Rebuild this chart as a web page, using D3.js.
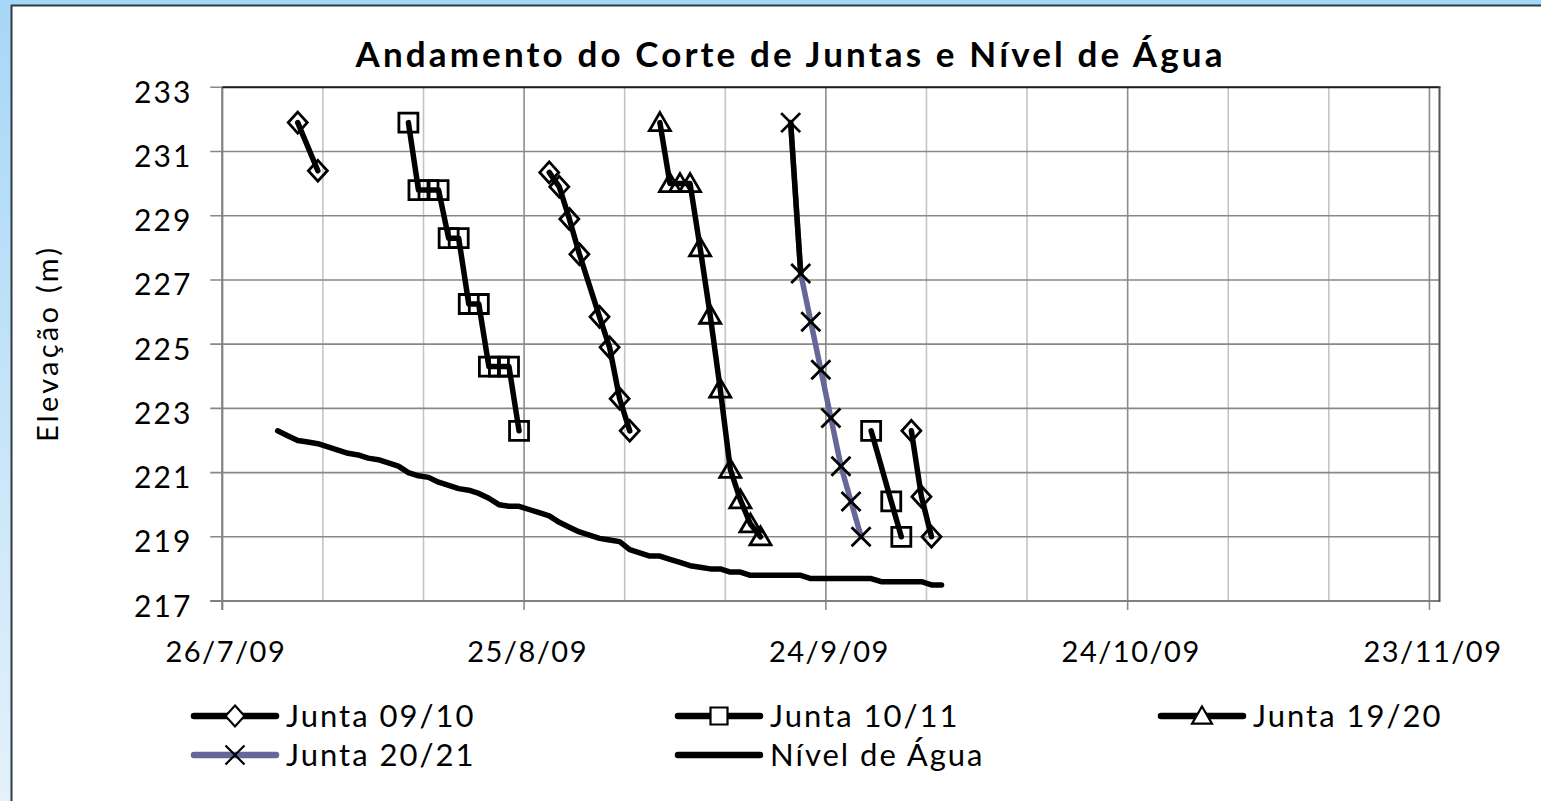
<!DOCTYPE html>
<html><head><meta charset="utf-8">
<script src="https://cdn.jsdelivr.net/npm/d3@7"></script>
<style>html,body{margin:0;padding:0;background:#fff;overflow:hidden}</style>
</head><body>
<svg id="c" width="1541" height="801"></svg>
<script>
// ---------------- DATA ----------------
const chartTitle = "Andamento do Corte de Juntas e Nível de Água";
const yAxisTitle = "Elevação (m)";
const xDomain = ["2009-07-26", "2009-11-24"];
const xTickDates = ["2009-07-26", "2009-08-25", "2009-09-24", "2009-10-24", "2009-11-23"];
const xTickLabels = ["26/7/09", "25/8/09", "24/9/09", "24/10/09", "23/11/09"];
const yTicks = [217, 219, 221, 223, 225, 227, 229, 231, 233];
const seriesNames = ["Junta 09/10", "Junta 10/11", "Junta 19/20", "Junta 20/21", "Nível de Água"];

// null value = gap in the line
const j0910Dates = ["2009-08-02","2009-08-04","2009-08-15",
  "2009-08-27","2009-08-28","2009-08-29","2009-08-30","2009-09-01","2009-09-02","2009-09-03","2009-09-04","2009-09-20",
  "2009-10-02","2009-10-03","2009-10-04"];
const j0910Values = [231.9, 230.4, null,
  230.35, 229.9, 228.9, 227.8, 225.85, 224.9, 223.3, 222.3, null,
  222.3, 220.25, 219.0];

const j1011Dates = ["2009-08-13","2009-08-14","2009-08-15","2009-08-16","2009-08-17","2009-08-18",
  "2009-08-19","2009-08-20","2009-08-21","2009-08-22","2009-08-23","2009-08-24","2009-09-10",
  "2009-09-28","2009-09-30","2009-10-01"];
const j1011Values = [231.9, 229.8, 229.8, 229.8, 228.3, 228.3,
  226.25, 226.25, 224.3, 224.3, 224.3, 222.3, null,
  222.3, 220.1, 219.0];

const j1920Dates = ["2009-09-07","2009-09-08","2009-09-09","2009-09-10","2009-09-11","2009-09-12",
  "2009-09-13","2009-09-14","2009-09-15","2009-09-16","2009-09-17"];
const j1920Values = [231.9, 230.0, 230.0, 230.0, 228.0, 225.9, 223.6, 221.1, 220.15, 219.4, 219.0];

const j2021Dates = ["2009-09-20","2009-09-21","2009-09-22","2009-09-23","2009-09-24","2009-09-25","2009-09-26","2009-09-27"];
const j2021Values = [231.9, 227.2, 225.7, 224.2, 222.7, 221.2, 220.1, 219.0];

// daily water level readings starting 31/7/09
const nivelStart = "2009-07-31";
const nivelValues = [222.3, 222.15, 222.0, 221.95, 221.9, 221.8, 221.7, 221.6, 221.55, 221.45,
  221.4, 221.3, 221.2, 221.0, 220.9, 220.85, 220.7, 220.6, 220.5, 220.45,
  220.35, 220.2, 220.0, 219.95, 219.95, 219.85, 219.75, 219.65, 219.45, 219.3,
  219.15, 219.05, 218.95, 218.9, 218.85, 218.6, 218.5, 218.4, 218.4, 218.3,
  218.2, 218.1, 218.05, 218.0, 218.0, 217.9, 217.9, 217.8, 217.8, 217.8,
  217.8, 217.8, 217.8, 217.7, 217.7, 217.7, 217.7, 217.7, 217.7, 217.7,
  217.6, 217.6, 217.6, 217.6, 217.6, 217.5, 217.5];

// ---------------- LAYOUT / STYLE ----------------
const W = 1541, H = 801;
const plot = {left: 222.3, right: 1439.5, top: 87.3, bottom: 601};
const FONT = "Lato, 'Open Sans', sans-serif";
const purple = "#666699";

const svg = d3.select("#c");
const parse = d3.timeParse("%Y-%m-%d");

// background frame
const defs = svg.append("defs");
const g1 = defs.append("linearGradient").attr("id","bg").attr("x1",0).attr("y1",0).attr("x2",0).attr("y2",1);
g1.append("stop").attr("offset","0%").attr("stop-color","#a7d7f7");
g1.append("stop").attr("offset","100%").attr("stop-color","#e4f1fa");
svg.append("rect").attr("width",W).attr("height",H).attr("fill","url(#bg)");
svg.append("rect").attr("x",11).attr("y",5).attr("width",W).attr("height",H).attr("fill","#fff");
svg.append("line").attr("x1",11).attr("x2",W).attr("y1",5.5).attr("y2",5.5).attr("stroke","#2e3a44").attr("stroke-width",2);
svg.append("line").attr("x1",11.5).attr("x2",11.5).attr("y1",5).attr("y2",H).attr("stroke","#2e3a44").attr("stroke-width",2);

// scales
const x = d3.scaleTime().domain(xDomain.map(parse)).range([plot.left, plot.right]);
const y = d3.scaleLinear().domain([217, 233]).range([plot.bottom, plot.top]);
const px = d => x(d3.timeHour.offset(d, 12)); // points centred in their day

// gridlines
const start = parse(xDomain[0]);
const minorDates = d3.range(0, 121, 10).map(k => d3.timeDay.offset(start, k));
const majorSet = new Set(xTickDates);
const fmt = d3.timeFormat("%Y-%m-%d");
const grid = svg.append("g");
grid.selectAll("line.v").data(minorDates).join("line")
  .attr("x1", d => x(d)).attr("x2", d => x(d))
  .attr("y1", plot.top).attr("y2", d => majorSet.has(fmt(d)) ? plot.bottom + 9 : plot.bottom)
  .attr("stroke", d => majorSet.has(fmt(d)) ? "#8c8c8c" : "#c4c4c4").attr("stroke-width", 1.6);
grid.selectAll("line.h").data(yTicks).join("line")
  .attr("x1", plot.left - 12).attr("x2", plot.right)
  .attr("y1", d => y(d)).attr("y2", d => y(d))
  .attr("stroke", "#888").attr("stroke-width", 1.6);
// plot border
svg.append("line").attr("x1",plot.left).attr("x2",plot.left).attr("y1",plot.top).attr("y2",plot.bottom+9).attr("stroke","#808080").attr("stroke-width",2);
svg.append("line").attr("x1",plot.left-12).attr("x2",plot.right).attr("y1",plot.bottom).attr("y2",plot.bottom).attr("stroke","#808080").attr("stroke-width",2);
svg.append("line").attr("x1",plot.left).attr("x2",plot.right+1).attr("y1",plot.top).attr("y2",plot.top).attr("stroke","#1e1e1e").attr("stroke-width",2);
svg.append("line").attr("x1",plot.right).attr("x2",plot.right).attr("y1",plot.top).attr("y2",plot.bottom+1).attr("stroke","#555").attr("stroke-width",2);

// axes (labels)
const yAxis = svg.append("g").attr("transform", `translate(${plot.left - 30},0)`)
  .call(d3.axisLeft(y).tickValues(yTicks).tickSize(0).tickFormat(d3.format("d")));
yAxis.select(".domain").remove();
yAxis.selectAll("text").attr("font-family", FONT).attr("font-size", 30).attr("fill", "#000")
  .attr("dy", "0.5em").attr("x", 0).attr("letter-spacing", 2);

const xAxis = svg.append("g").attr("transform", `translate(0,${plot.bottom})`)
  .call(d3.axisBottom(x).tickValues(xTickDates.map(parse)).tickSize(0).tickFormat((d, i) => xTickLabels[i]));
xAxis.select(".domain").remove();
xAxis.selectAll("text").attr("font-family", FONT).attr("font-size", 29).attr("fill", "#000")
  .attr("y", 61).attr("dy", 0).attr("dx", 3).attr("letter-spacing", 1.5);

// title
svg.append("text").attr("x", 789).attr("y", 67).attr("text-anchor","middle")
  .attr("font-family", FONT).attr("font-weight","bold").attr("font-size", 35)
  .attr("textLength", 867).attr("lengthAdjust","spacing").text(chartTitle);
svg.append("text").attr("transform","translate(58,345) rotate(-90)").attr("text-anchor","middle")
  .attr("font-family", FONT).attr("font-size", 29).attr("textLength", 194).attr("lengthAdjust","spacing").text(yAxisTitle);

// marker shapes
function markerPath(type, s) {
  const h = s / 2;
  if (type === "diamond") return `M0,${-h*1.1}L${h},0L0,${h*1.1}L${-h},0Z`;
  if (type === "square") return `M${-h},${-h}H${h}V${h}H${-h}Z`;
  if (type === "triangle") return `M0,${-h}L${h*1.05},${h*0.8}L${-h*1.05},${h*0.8}Z`;
  if (type === "x") return `M${-h},${-h}L${h},${h}M${h},${-h}L${-h},${h}`;
}

function mkData(dates, values) { return dates.map((d, i) => ({date: parse(d), v: values[i]})); }
const nivelDates = nivelValues.map((v, i) => d3.timeDay.offset(parse(nivelStart), i));

const series = [
  {name: seriesNames[0], data: mkData(j0910Dates, j0910Values), color: "#000", marker: "diamond"},
  {name: seriesNames[1], data: mkData(j1011Dates, j1011Values), color: "#000", marker: "square"},
  {name: seriesNames[2], data: mkData(j1920Dates, j1920Values), color: "#000", marker: "triangle"},
  {name: seriesNames[3], data: mkData(j2021Dates, j2021Values), color: purple, marker: "x"},
  {name: seriesNames[4], data: nivelValues.map((v, i) => ({date: nivelDates[i], v})), color: "#000", marker: null}
];

const line = d3.line().defined(d => d.v != null).x(d => px(d.date)).y(d => y(d.v));
const sg = svg.append("g");
series.forEach((s, si) => {
  sg.append("path").attr("d", line(s.data)).attr("fill","none").attr("stroke", s.color)
    .attr("stroke-width", 5.5).attr("stroke-linejoin","round").attr("stroke-linecap","round");
  if (si === 3) {
    // first segment of Junta 20/21 appears black in the reference
    sg.append("path").attr("d", line(s.data.slice(0, 2))).attr("fill","none").attr("stroke", "#000")
      .attr("stroke-width", 5.5).attr("stroke-linecap","round");
  }
  if (s.marker) {
    sg.selectAll(null).data(s.data.filter(d => d.v != null)).join("path")
      .attr("transform", d => `translate(${px(d.date)},${y(d.v)})`)
      .attr("d", markerPath(s.marker, s.marker === "triangle" ? 20 : 19))
      .attr("fill","none").attr("stroke","#000").attr("stroke-width", 2.8);
  }
});

// legend
const legendPos = [[192, 716], [676, 716], [1159, 716], [192, 755], [676, 755]];
series.forEach((s, i) => {
  const [lx, ly] = legendPos[i];
  const g = svg.append("g").attr("transform", `translate(${lx},${ly})`);
  g.append("line").attr("x1", 2).attr("x2", 84).attr("stroke", s.color).attr("stroke-width", 6.5).attr("stroke-linecap","round");
  if (s.marker) g.append("path").attr("transform","translate(43,0)").attr("d", markerPath(s.marker, s.marker === "square" ? 17 : 19))
      .attr("fill", s.marker === "x" ? "none" : "#fff").attr("stroke","#000").attr("stroke-width", 2.2);
  g.append("text").attr("x", 94).attr("y", 11).attr("font-family", FONT).attr("font-size", 31)
    .attr("letter-spacing", 2).text(s.name);
});
</script>
</body></html>
